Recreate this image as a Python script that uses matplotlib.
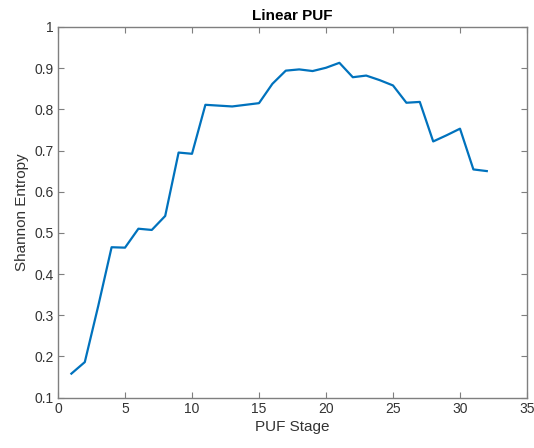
import numpy as np
import matplotlib
matplotlib.use('Agg')
import matplotlib.pyplot as plt

plt.rcParams['font.family'] = ['Liberation Sans', 'DejaVu Sans']

# PUF stages and measured entropy
stages = np.arange(1, 33)
entropy = [0.158, 0.186, 0.322, 0.465, 0.464, 0.510, 0.507, 0.541,
           0.695, 0.692, 0.811, 0.809, 0.807, 0.811, 0.815, 0.862,
           0.894, 0.897, 0.893, 0.901, 0.913, 0.878, 0.882, 0.871,
           0.858, 0.816, 0.818, 0.722, 0.737, 0.753, 0.654, 0.650]

xticks = [0, 5, 10, 15, 20, 25, 30, 35]
yticks = [0.1, 0.2, 0.3, 0.4, 0.5, 0.6, 0.7, 0.8, 0.9, 1.0]
ytick_labels = ['0.1', '0.2', '0.3', '0.4', '0.5', '0.6', '0.7', '0.8', '0.9', '1']

fig = plt.figure(figsize=(5.34, 4.48), dpi=100)
ax = fig.add_axes([58 / 534, 1 - 397.5 / 448, 469 / 534, 370.5 / 448])

ax.plot(stages, entropy, color='#0072BD', linewidth=1.6)

ax.set_xlim(0, 35)
ax.set_ylim(0.1, 1.0)
ax.set_xticks(xticks)
ax.set_yticks(yticks)
ax.set_yticklabels(ytick_labels)

edge = '#7f7f7f'
for s in ax.spines.values():
    s.set_color(edge)
    s.set_linewidth(1.0)
ax.tick_params(direction='in', top=True, right=True, length=4,
               color=edge, labelcolor='#333333', labelsize=10, pad=3)

ax.set_xlabel('PUF Stage', fontsize=11, color='#333333', labelpad=3)
ax.set_ylabel('Shannon Entropy', fontsize=11, color='#333333', labelpad=4)
ax.set_title('Linear PUF', fontsize=11, fontweight='bold', color='black', pad=5)

fig.savefig('out.png', dpi=100)
